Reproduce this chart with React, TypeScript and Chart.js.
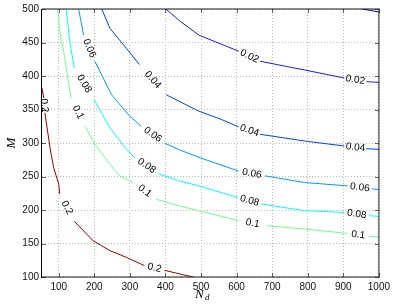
import React, { useEffect, useRef } from "react";
import { Chart, registerables } from "chart.js";

Chart.register(...registerables);

// Axis ticks
const xTicks = [100, 200, 300, 400, 500, 600, 700, 800, 900, 1000];
const yTicks = [100, 150, 200, 250, 300, 350, 400, 450, 500];

// Contour levels (null = gap where the inline label sits)
const levelNames = ["0.01", "0.02", "0.04", "0.06", "0.08", "0.1", "0.2"];
const levelColors = ["#0000bb", "#1a1aff", "#0040ff", "#0099ff", "#00ffff", "#70ff90", "#990000"];
const showLabels = [false, true, true, true, true, true, true];

const nd001 = [953, 975, 1000];
const m001 = [500, 498, 495.5];

const nd002 = [401, 443, 494, 606, null, 666, 791, 903, null, 965, 1000];
const m002 = [500, 481, 461, 437, null, 422, 409, 397, null, 391.5, 390.5];

const nd004 = [221, 244, 290, 327, null, 402, 494, 558, 606, null, 666, 791, 903, null, 965, 1000];
const m004 = [500, 471, 441.5, 417, null, 372, 347.5, 335, 324, null, 313, 303, 295.5, null, 291.5, 290.5];

const nd006 = [156, 170, null, 202, 248.6, 299.6, 332, null, 397, 443, 500, 606, null, 680, 791, 912, null, 981, 1000];
const m006 = [500, 461, null, 421.7, 372, 340, 325, null, 300, 289, 277.5, 258, null, 251, 241, 236, null, 231.5, 230.5];

const nd008 = [120.6, 132.6, 143.7, null, 199.4, 244, 290, 313.5, null, 381, 438.7, 494, 604, null, 669, 791, 903, null, 972, 1000];
const m008 = [500, 446.5, 412, null, 364.7, 322.6, 291, 278, null, 254, 243.4, 236, 218.6, null, 209, 199, 196.3, null, 191.4, 190.5];

const nd01 = [97, 103, 114, 134.5, null, 174, 202, 216, 244, 271.7, 309, null, 374, 438.7, 494, 606, null, 684.5, 791, 912, null, 972, 1000];
const m01 = [500, 466, 436.6, 367, null, 325, 298, 288, 268, 251, 241, null, 216, 206.3, 199, 184, null, 176.5, 171.6, 165, null, 161, 160];

const nd02 = [53, 58, null, 61, 77, 86, 100, 102.8, null, 144, 197, 244, 290, 341, null, 397, 471, 540];
const m02 = [382, 367, null, 345, 288, 263, 238.5, 224, null, 183, 154, 139.4, 129.4, 117, null, 110, 100.7, 92];

const contourNd = [nd001, nd002, nd004, nd006, nd008, nd01, nd02];
const contourM = [m001, m002, m004, m006, m008, m01, m02];

const X_MIN = 53;
const X_MAX = 1000;
const Y_MIN = 100;
const Y_MAX = 500;

const framePlugin = {
  id: "framePlugin",
  afterDatasetsDraw(chart: any) {
    const ctx = chart.ctx;
    const a = chart.chartArea;
    // inline contour labels
    ctx.save();
    ctx.beginPath();
    ctx.rect(a.left, a.top, a.right - a.left, a.bottom - a.top);
    ctx.clip();
    ctx.font = '10px "Liberation Sans", Arial, sans-serif';
    ctx.fillStyle = "#000";
    ctx.textAlign = "center";
    ctx.textBaseline = "middle";
    chart.data.datasets.forEach((ds: any, di: number) => {
      if (!showLabels[di]) return;
      const meta = chart.getDatasetMeta(di);
      const pts = meta.data;
      const src = contourM[di];
      for (let i = 1; i < src.length - 1; i++) {
        if (src[i] !== null) continue;
        const p1 = pts[i - 1];
        const p2 = pts[i + 1];
        const cx = (p1.x + p2.x) / 2;
        const cy = (p1.y + p2.y) / 2;
        let ang = Math.atan2(p2.y - p1.y, p2.x - p1.x);
        if (ang > Math.PI / 2) ang -= Math.PI;
        if (ang <= -Math.PI / 2) ang += Math.PI;
        ctx.save();
        ctx.translate(cx, cy);
        ctx.rotate(ang);
        ctx.fillText(levelNames[di], 0, 0);
        ctx.restore();
      }
    });
    ctx.restore();

    // frame
    ctx.save();
    ctx.lineWidth = 2;
    ctx.strokeStyle = "rgba(0,0,0,0.45)";
    ctx.beginPath();
    ctx.moveTo(a.left, a.top);
    ctx.lineTo(a.right, a.top);
    ctx.lineTo(a.right, a.bottom);
    ctx.lineTo(a.left, a.bottom);
    ctx.stroke();
    ctx.lineWidth = 1;
    ctx.strokeStyle = "#000";
    ctx.beginPath();
    ctx.moveTo(a.left - 0.5, a.top);
    ctx.lineTo(a.left - 0.5, a.bottom + 1);
    ctx.stroke();
    // inward ticks
    ctx.strokeStyle = "rgba(0,0,0,0.6)";
    const xs = chart.scales.x;
    const ys = chart.scales.y;
    ctx.beginPath();
    xTicks.forEach((v) => {
      const px = Math.round(xs.getPixelForValue(v)) + 0.5;
      ctx.moveTo(px, a.bottom);
      ctx.lineTo(px, a.bottom - 4);
      ctx.moveTo(px, a.top);
      ctx.lineTo(px, a.top + 4);
    });
    yTicks.forEach((v) => {
      const py = Math.round(ys.getPixelForValue(v)) + 0.5;
      ctx.moveTo(a.left, py);
      ctx.lineTo(a.left + 4, py);
      ctx.moveTo(a.right, py);
      ctx.lineTo(a.right - 4, py);
    });
    ctx.stroke();

    // axis titles
    ctx.fillStyle = "#000";
    ctx.font = 'italic 13px "Liberation Serif", "Times New Roman", serif';
    ctx.textAlign = "center";
    ctx.textBaseline = "middle";
    ctx.save();
    ctx.translate(12, 143);
    ctx.rotate(-Math.PI / 2);
    ctx.fillText("M", 0, 0);
    ctx.restore();
    ctx.textAlign = "left";
    ctx.fillText("N", 195, 295);
    ctx.font = 'italic 9px "Liberation Serif", "Times New Roman", serif';
    ctx.fillText("d", 205, 298);
    ctx.restore();
  },
};

export default function App() {
  const ref = useRef<HTMLCanvasElement | null>(null);

  useEffect(() => {
    if (!ref.current) return;
    const datasets = contourNd.map((nds, i) => ({
      label: levelNames[i],
      data: nds.map((nd, j) => ({ x: nd === null ? X_MIN : nd, y: contourM[i][j] })),
      borderColor: levelColors[i],
      backgroundColor: levelColors[i],
      borderWidth: 1,
      pointRadius: 0,
      pointHoverRadius: 0,
      tension: 0,
      spanGaps: false,
      fill: false,
    }));

    const tickFont = { family: '"Liberation Sans", Arial, sans-serif', size: 10 };
    const chart = new Chart(ref.current, {
      type: "line",
      data: { datasets },
      options: {
        animation: false,
        responsive: false,
        events: [],
        layout: { padding: { left: 0, right: 12, top: 7, bottom: 0 } },
        plugins: { legend: { display: false }, tooltip: { enabled: false } },
        scales: {
          x: {
            type: "linear",
            min: X_MIN,
            max: X_MAX,
            afterBuildTicks: (axis: any) => {
              axis.ticks = xTicks.map((v) => ({ value: v }));
            },
            afterFit: (axis: any) => {
              axis.height = 29;
            },
            grid: { color: "#b8b8b8", lineWidth: 1, drawTicks: false },
            border: { display: false, dash: [1, 2] },
            ticks: {
              autoSkip: false,
              maxRotation: 0,
              padding: 4,
              color: "#111",
              font: tickFont,
              callback: (v: any) => String(v),
            },
          },
          y: {
            type: "linear",
            min: Y_MIN,
            max: Y_MAX,
            afterBuildTicks: (axis: any) => {
              axis.ticks = yTicks.map((v) => ({ value: v }));
            },
            afterFit: (axis: any) => {
              axis.width = 42;
            },
            grid: { color: "#b8b8b8", lineWidth: 1, drawTicks: false },
            border: { display: false, dash: [1, 2] },
            ticks: {
              autoSkip: false,
              padding: 3,
              color: "#111",
              font: tickFont,
              callback: (v: any) => String(v),
            },
          },
        },
      },
      plugins: [framePlugin],
    });
    return () => chart.destroy();
  }, []);

  return (
    <div style={{ position: "fixed", left: 0, top: 0, width: 394, height: 306, background: "#fff" }}>
      <canvas ref={ref} width={394} height={306} style={{ display: "block" }} />
    </div>
  );
}
